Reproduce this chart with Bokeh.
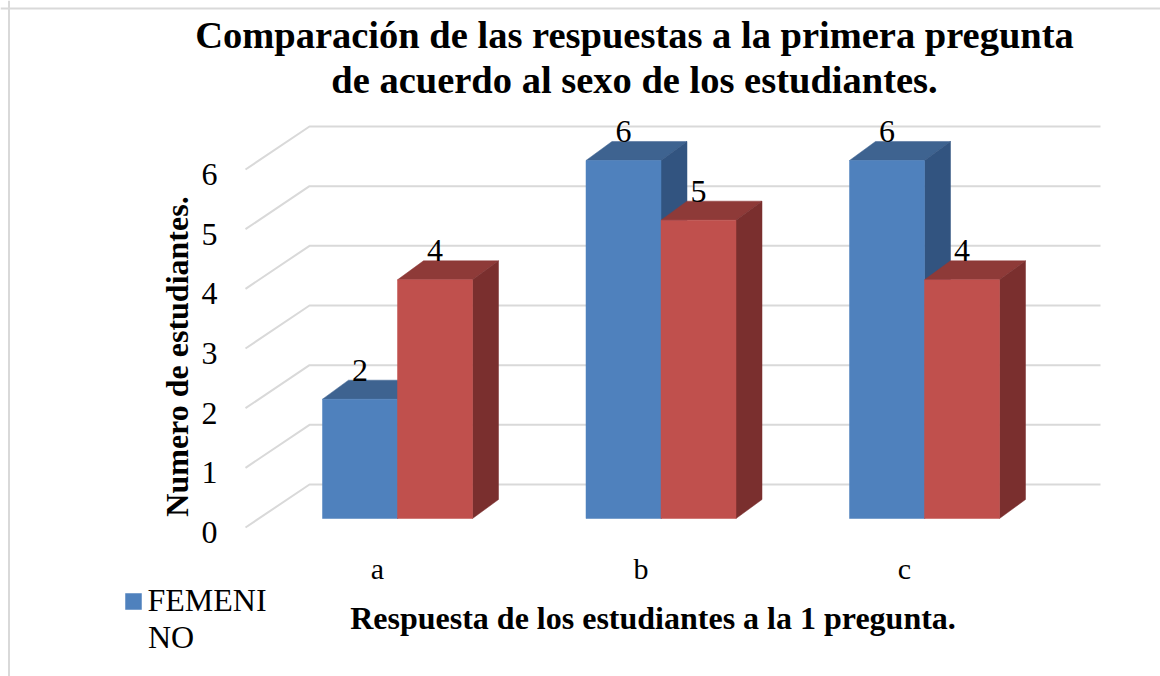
from bokeh.plotting import figure
from bokeh.embed import file_html
from bokeh.resources import INLINE
from bokeh.models import (Range1d, LinearAxis, FixedTicker, Label, Span, Legend, LegendItem,
                          ColumnDataSource)
from bokeh.core.properties import value

# ---- data -------------------------------------------------------------
categorias = ["a", "b", "c"]
femenino = [2, 6, 6]
masculino = [4, 5, 4]
marcas_y = [0, 1, 2, 3, 4, 5, 6]
titulo = ["Comparación de las respuestas a la primera pregunta",
          "de acuerdo al sexo de los estudiantes."]
titulo_x = "Respuesta de los estudiantes a la 1 pregunta."
titulo_y = "Numero de estudiantes."
leyenda = ["FEMENI", "NO"]

# ---- layout (pixels of the picture) -------------------------------------
W, H = 1160, 676
X0, PX_CAT = 397.0, 263.5       # first group's centre, spacing of groups
Y0, PX_UNIT = 518.0, 59.67      # bars' base, height of one student
BAR = 75.0 / PX_CAT             # bar width, in category units
DX, DY = 26 / PX_CAT, 19 / PX_UNIT   # depth of the bars
SERIF = "Liberation Serif"


def x_of(px):
    return (px - X0) / PX_CAT


def y_of(py):
    return (Y0 - py) / PX_UNIT


p = figure(width=W, height=H, output_backend="svg", toolbar_location=None,
           x_range=Range1d(x_of(0), x_of(W)),
           y_range=Range1d(y_of(H), y_of(0)),
           min_border=0, background_fill_color="white", border_fill_color="white")
p.xaxis.visible = False
p.yaxis.visible = False
p.xgrid.visible = False
p.ygrid.visible = False
p.outline_line_color = None

# chart frame
p.add_layout(Span(location=y_of(8), dimension="width", line_color="#D9D9D9", line_width=2))
p.add_layout(Span(location=x_of(8.5), dimension="height", line_color="#D9D9D9", line_width=2))

# wall / side-wall grid lines
GRID_FRONT_X, GRID_BACK_X, GRID_END_X = x_of(245), x_of(309), x_of(1100)
GRID_FRONT_DY, GRID_BACK_DY = -9 / PX_UNIT, 34 / PX_UNIT
p.multi_line(
    xs=[[GRID_FRONT_X, GRID_BACK_X, GRID_END_X] for _ in marcas_y],
    ys=[[v + GRID_FRONT_DY, v + GRID_BACK_DY, v + GRID_BACK_DY] for v in marcas_y],
    line_color="#D9D9D9", line_width=2)


def bars(values, left_shift, front, top, side):
    lefts = [i + left_shift for i in range(len(values))]
    rights = [l + BAR for l in lefts]
    p.patches(
        xs=[[l, r, r + DX, l + DX] for l, r in zip(lefts, rights)],
        ys=[[v, v, v + DY, v + DY] for v in values],
        fill_color=top, line_color=top, line_width=0.5)
    p.patches(
        xs=[[r, r + DX, r + DX, r] for r in rights],
        ys=[[0, DY, v + DY, v] for v in values],
        fill_color=side, line_color=side, line_width=0.5)
    return p.vbar(x=[(l + r) / 2 for l, r in zip(lefts, rights)], width=BAR, bottom=0,
                  top=values, fill_color=front, line_color=front, line_width=0.5)


r_fem = bars(femenino, -BAR, "#4F81BD", "#3E6390", "#325480")
bars(masculino, 0, "#C0504D", "#8E3A38", "#7A2F2E")

# data labels
for vals, shift in ((femenino, -BAR / 2), (masculino, BAR / 2)):
    src = ColumnDataSource(dict(x=[i + shift for i in range(len(vals))], y=vals,
                                t=[str(v) for v in vals]))
    p.text(x="x", y="y", text="t", source=src, text_font=value(SERIF), text_font_size="32px",
           text_color="black", text_align="center", text_baseline="middle", y_offset=-29)

# value axis: its labels sit on the side wall's front edge
shift_y = 14 / PX_UNIT
p.extra_y_ranges["marcas"] = Range1d(p.y_range.start + shift_y, p.y_range.end + shift_y)
ay = LinearAxis(y_range_name="marcas", ticker=FixedTicker(ticks=marcas_y), fixed_location=x_of(227))
ay.axis_line_color = None
ay.major_tick_line_color = None
ay.minor_tick_line_color = None
ay.major_label_standoff = 4
ay.major_label_text_font = SERIF
ay.major_label_text_font_size = "32px"
ay.major_label_text_color = "black"
p.add_layout(ay, "left")

# category axis: labels are slightly left of the group's centres
shift_x = 20 / PX_CAT
p.extra_x_ranges["cats"] = Range1d(p.x_range.start + shift_x, p.x_range.end + shift_x)
ax = LinearAxis(x_range_name="cats", ticker=FixedTicker(ticks=list(range(len(categorias)))),
                major_label_overrides={i: c for i, c in enumerate(categorias)},
                fixed_location=y_of(545))
ax.axis_line_color = None
ax.major_tick_line_color = None
ax.minor_tick_line_color = None
ax.major_label_standoff = 0
ax.major_label_text_font = SERIF
ax.major_label_text_font_size = "30px"
ax.major_label_text_color = "black"
p.add_layout(ax, "below")

# titles
for line, cy in zip(titulo, (34.5, 79.5)):
    p.add_layout(Label(x=x_of(634), y=y_of(cy), text=line, text_font=SERIF, text_font_size="38.5px",
                       text_font_style="bold", text_color="black", text_align="center",
                       text_baseline="middle"))
p.add_layout(Label(x=x_of(652.5), y=y_of(617), text=titulo_x, text_font=SERIF, text_font_size="32px",
                   text_font_style="bold", text_color="black", text_align="center",
                   text_baseline="middle"))
p.add_layout(Label(x=x_of(176), y=y_of(356), text=titulo_y, text_font=SERIF, text_font_size="32px",
                   text_font_style="bold", text_color="black", text_align="center",
                   text_baseline="middle", angle=90, angle_units="deg"))

# legend: one swatch, label wrapped over two lines
lg = Legend(items=[LegendItem(label=leyenda[0], renderers=[r_fem])],
            location=(122.5, 57), border_line_color=None, background_fill_alpha=0,
            glyph_width=20, glyph_height=20, label_text_font=SERIF, label_text_font_size="32px",
            label_text_color="black", margin=0, padding=8, label_standoff=5)
p.add_layout(lg)
p.add_layout(Label(x=x_of(147.5), y=y_of(636), text=leyenda[1], text_font=SERIF, text_font_size="32px",
                   text_color="black", text_align="left", text_baseline="middle"))

open("out.html", "w").write(file_html(p, INLINE))
